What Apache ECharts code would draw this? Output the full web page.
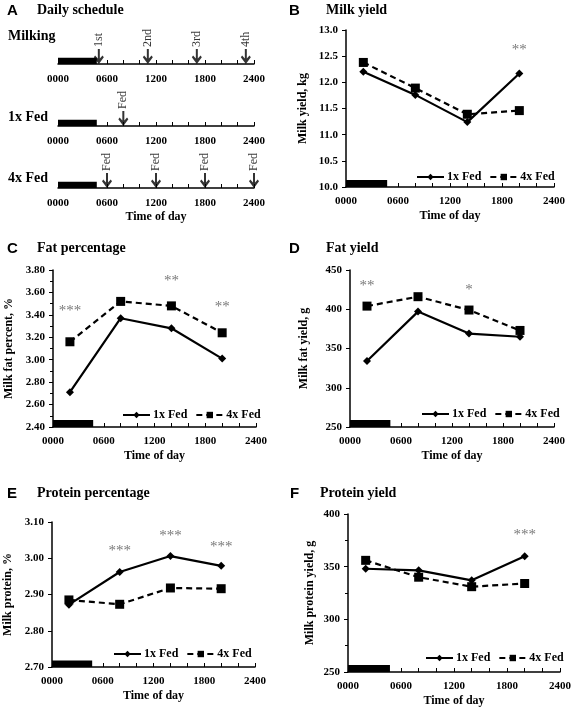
<!DOCTYPE html>
<html><head><meta charset="utf-8">
<script src="https://cdn.jsdelivr.net/npm/echarts@6/dist/echarts.min.js"></script>
<style>html,body{margin:0;padding:0;background:#fff}#c{width:576px;height:709px}</style>
</head><body><div id="c"></div>
<script>
// ---- data ----
const timePoints = [2, 8, 14, 20];              // hours of day (sampling)
const darkPeriod = [0, 4.75];                   // dark bar, hours
const milkingTimes = [5, 11, 17, 23];
const milkingLabels = ['1st', '2nd', '3rd', '4th'];
const fed1xTimes = [8];
const fed4xTimes = [6, 12, 18, 24];

const milkYield1x = [12.20, 11.76, 11.24, 12.17];
const milkYield4x = [12.38, 11.89, 11.39, 11.46];
const milkYieldSig = [[20, 12.62, '**']];

const fatPct1x = [2.71, 3.37, 3.28, 3.01];
const fatPct4x = [3.16, 3.52, 3.48, 3.24];
const fatPctSig = [[2, 3.43, '***'], [14, 3.70, '**'], [20, 3.47, '**']];

const fatYield1x = [334, 397, 369, 365];
const fatYield4x = [404, 416, 399, 373];
const fatYieldSig = [[2, 430, '**'], [14, 424, '*']];

const protPct1x = [2.872, 2.962, 3.006, 2.979];
const protPct4x = [2.885, 2.873, 2.918, 2.916];
const protPctSig = [[8, 3.020, '***'], [14, 3.062, '***'], [20, 3.032, '***']];

const protYield1x = [348, 346.5, 337, 360];
const protYield4x = [356, 340, 331, 334];
const protYieldSig = [[20, 380, '***']];

// ---- helpers ----
const SERIF = '"Liberation Serif","Times New Roman",serif';
const SANS = '"Liberation Sans",Arial,sans-serif';
const hhmm = v => String(Math.round(v * 100)).padStart(4, '0');

const grids = [], xAxes = [], yAxes = [], series = [], legends = [], graphics = [];

function xAxisCfg(gi, showName) {
  return {
    type: 'value', gridIndex: gi, min: 0, max: 24, interval: 6,
    axisLine: { show: true, lineStyle: { color: '#000', width: 1.5 } },
    axisTick: { show: true, inside: true, length: 4, lineStyle: { color: '#000' } },
    minorTick: { show: true, splitNumber: 3, length: 4, lineStyle: { color: '#000' } },
    splitLine: { show: false },
    axisLabel: { color: '#000', fontFamily: SERIF, fontWeight: 'bold', fontSize: 11, margin: 9, formatter: hhmm },
    name: showName ? 'Time of day' : '', nameLocation: 'middle', nameGap: 23,
    nameTextStyle: { color: '#000', fontFamily: SERIF, fontWeight: 'bold', fontSize: 12 }
  };
}

function panel(p) {
  const gi = grids.length;
  grids.push({ left: p.left, top: p.top, width: p.width, height: p.height });
  xAxes.push(xAxisCfg(gi, true));
  yAxes.push({
    type: 'value', gridIndex: gi, min: p.min, max: p.max, interval: p.interval,
    axisLine: { show: true, lineStyle: { color: '#000', width: 1.5 } },
    axisTick: { show: true, inside: false, length: 4, lineStyle: { color: '#000' } },
    minorTick: { show: !!p.minor, splitNumber: 2, length: 3, lineStyle: { color: '#000' } },
    splitLine: { show: false },
    axisLabel: { color: '#000', fontFamily: SERIF, fontWeight: 'bold', fontSize: 11, margin: 8,
      formatter: v => v.toFixed(p.dec) },
    name: p.yName, nameLocation: 'middle', nameGap: p.nameGap, nameRotate: 90,
    nameTextStyle: { color: '#000', fontFamily: SERIF, fontWeight: 'bold', fontSize: 12 }
  });
  const barH = (p.max - p.min) * 0.045;
  series.push({
    name: '1x Fed', type: 'line', xAxisIndex: gi, yAxisIndex: gi,
    data: timePoints.map((t, i) => [t, p.d1[i]]),
    symbol: 'diamond', symbolSize: 8, itemStyle: { color: '#000' },
    lineStyle: { color: '#000', width: 2.2, type: 'solid' }, z: 3,
    markArea: { silent: true, itemStyle: { color: '#000', opacity: 1 },
      data: [[{ xAxis: darkPeriod[0], yAxis: p.min }, { xAxis: darkPeriod[1], yAxis: p.min + barH }]] }
  });
  series.push({
    name: '4x Fed', type: 'line', xAxisIndex: gi, yAxisIndex: gi,
    data: timePoints.map((t, i) => [t, p.d4[i]]),
    symbol: 'rect', symbolSize: 9, itemStyle: { color: '#000' },
    lineStyle: { color: '#000', width: 2.2, type: [6, 4] }, z: 3
  });
  series.push({
    name: 'sig', type: 'scatter', xAxisIndex: gi, yAxisIndex: gi,
    data: p.sig, symbolSize: 0, silent: true,
    label: { show: true, position: 'inside', formatter: d => d.data[2],
      color: '#555', fontFamily: SERIF, fontSize: 15 }
  });
  legends.push({
    data: ['1x Fed', '4x Fed'], left: p.legLeft, top: p.legTop + 2, padding: 0,
    itemWidth: 27, itemHeight: 8, itemGap: 8,
    textStyle: { color: '#000', fontFamily: SERIF, fontWeight: 'bold', fontSize: 12, padding: [0, 0, 0, -2] },
    selectedMode: false
  });
  graphics.push(
    { type: 'text', left: p.tx, top: p.ty, style: { text: p.letter, font: 'bold 15px ' + SANS, fill: '#000' } },
    { type: 'text', left: p.tx2, top: p.ty, style: { text: p.title, font: 'bold 14px ' + SERIF, fill: '#000' } }
  );
}

panel({ letter: 'B', title: 'Milk yield', tx: 289, tx2: 326, ty: 3,
  left: 346, top: 30, width: 208, height: 157, min: 10, max: 13, interval: 0.5, dec: 1,
  yName: 'Milk yield, kg', nameGap: 37, d1: milkYield1x, d4: milkYield4x, sig: milkYieldSig,
  legLeft: 416, legTop: 169 });
panel({ letter: 'C', title: 'Fat percentage', tx: 7, tx2: 37, ty: 241,
  left: 53, top: 270, width: 203, height: 157, min: 2.4, max: 3.8, interval: 0.2, dec: 2, minor: true,
  yName: 'Milk fat percent, %', nameGap: 38, d1: fatPct1x, d4: fatPct4x, sig: fatPctSig,
  legLeft: 122, legTop: 407 });
panel({ letter: 'D', title: 'Fat yield', tx: 289, tx2: 326, ty: 241,
  left: 350, top: 270, width: 204, height: 157, min: 250, max: 450, interval: 50, dec: 0,
  yName: 'Milk fat yield, g', nameGap: 40, d1: fatYield1x, d4: fatYield4x, sig: fatYieldSig,
  legLeft: 421, legTop: 406 });
panel({ letter: 'E', title: 'Protein percentage', tx: 7, tx2: 37, ty: 486,
  left: 52, top: 522, width: 203, height: 145, min: 2.7, max: 3.1, interval: 0.1, dec: 2,
  yName: 'Milk protein, %', nameGap: 38, d1: protPct1x, d4: protPct4x, sig: protPctSig,
  legLeft: 113, legTop: 646 });
panel({ letter: 'F', title: 'Protein yield', tx: 290, tx2: 320, ty: 486,
  left: 348, top: 514, width: 212, height: 158, min: 250, max: 400, interval: 50, dec: 0, minor: true,
  yName: 'Milk protein yield, g', nameGap: 32, d1: protYield1x, d4: protYield4x, sig: protYieldSig,
  legLeft: 425, legTop: 650 });

// ---- panel A: daily schedule timelines ----
const arrowPath = 'path://M4,0 L6,0 L6,9.2 L8.7,6.4 L10,8 L5,14.5 L0,8 L1.3,6.4 L4,9.2 Z';
const rows = [
  { label: 'Milking', axisY: 64, times: milkingTimes, texts: milkingLabels, name: false, ly: 29 },
  { label: '1x Fed', axisY: 126, times: fed1xTimes, texts: fed1xTimes.map(() => 'Fed'), name: false, ly: 110 },
  { label: '4x Fed', axisY: 188, times: fed4xTimes, texts: fed4xTimes.map(() => 'Fed'), name: true, ly: 171 }
];
rows.forEach(r => {
  const gi = grids.length;
  grids.push({ left: 58, width: 196, top: r.axisY - 24, height: 24 });
  const xa = xAxisCfg(gi, r.name);
  xa.axisLabel.margin = 10;
  xAxes.push(xa);
  yAxes.push({ type: 'value', gridIndex: gi, min: 0, max: 1, show: false });
  series.push({
    name: r.label, type: 'scatter', xAxisIndex: gi, yAxisIndex: gi,
    data: r.times.map((t, i) => ({ value: [t, 0], label: { formatter: r.texts[i] } })),
    symbol: arrowPath, symbolSize: [10, 15], symbolOffset: [0, '-50%'], symbolKeepAspect: false,
    itemStyle: { color: '#000' }, silent: true, z: 4,
    label: { show: true, position: 'top', distance: 2, rotate: 90, align: 'left', verticalAlign: 'middle',
      color: '#000', fontFamily: SERIF, fontSize: 12 },
    markArea: { silent: true, itemStyle: { color: '#000', opacity: 1 },
      data: [[{ xAxis: darkPeriod[0], yAxis: 0 }, { xAxis: darkPeriod[1], yAxis: 0.26 }]] }
  });
  graphics.push({ type: 'text', left: 8, top: r.ly, style: { text: r.label, font: 'bold 14px ' + SERIF, fill: '#000' } });
});
graphics.push(
  { type: 'text', left: 7, top: 3, style: { text: 'A', font: 'bold 15px ' + SANS, fill: '#000' } },
  { type: 'text', left: 37, top: 3, style: { text: 'Daily schedule', font: 'bold 14px ' + SERIF, fill: '#000' } }
);

const chart = echarts.init(document.getElementById('c'), null, { renderer: 'canvas' });
chart.setOption({
  animation: false, backgroundColor: '#fff',
  grid: grids, xAxis: xAxes, yAxis: yAxes, series: series, legend: legends, graphic: graphics
});
</script></body></html>
